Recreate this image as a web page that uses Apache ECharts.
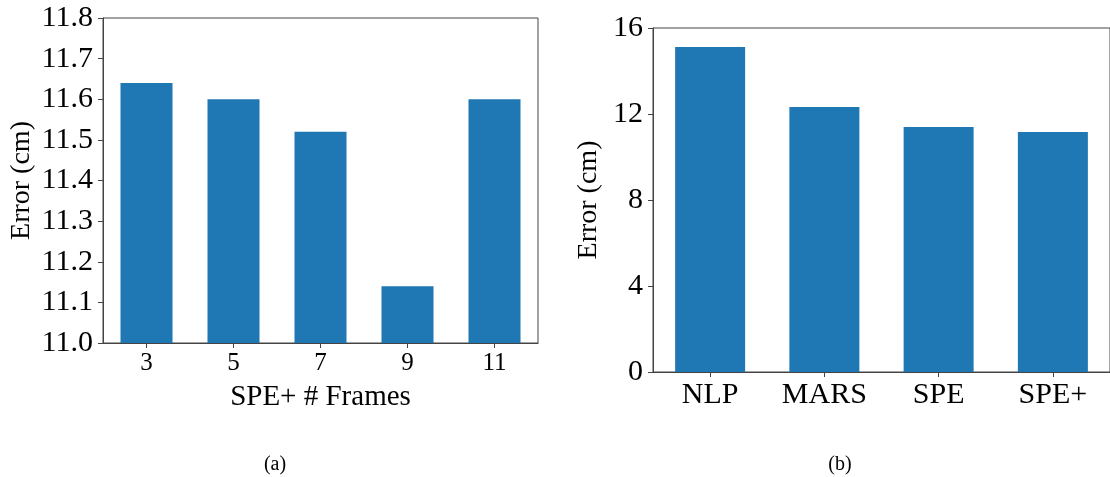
<!DOCTYPE html>
<html>
<head>
<meta charset="utf-8">
<script src="https://cdn.jsdelivr.net/npm/echarts@6/dist/echarts.min.js"></script>
<style>
html,body{margin:0;padding:0;background:#fff;}
#c{width:1110px;height:477px;}
</style>
</head>
<body>
<div id="c"></div>
<script>
// Data
const framesCats = ['3', '5', '7', '9', '11'];
const framesErr = [11.64, 11.60, 11.52, 11.14, 11.60];
const methodCats = ['NLP', 'MARS', 'SPE', 'SPE+'];
const methodErr = [15.12, 12.32, 11.39, 11.16];
const subLabels = ['(a)', '(b)'];

const FONT = '"Liberation Serif", "Times New Roman", serif';
const BLUE = '#1f77b4';
const SPINE = '#444';

const chart = echarts.init(document.getElementById('c'), null, {renderer: 'canvas'});

const axisLineStyle = {show: true, lineStyle: {color: SPINE, width: 1}};
const tickStyle = {show: true, inside: false, length: 5, lineStyle: {color: SPINE, width: 1}};

chart.setOption({
  animation: false,
  backgroundColor: '#fff',
  textStyle: {fontFamily: FONT},
  title: [
    {text: subLabels[0], left: 270, top: 450, textAlign: 'center',
     textStyle: {fontFamily: FONT, fontSize: 20, fontWeight: 'normal', color: '#000'}},
    {text: subLabels[1], left: 835, top: 450, textAlign: 'center',
     textStyle: {fontFamily: FONT, fontSize: 20, fontWeight: 'normal', color: '#000'}}
  ],
  grid: [
    {left: 103, top: 18, width: 435, height: 325, show: true, borderColor: SPINE, borderWidth: 1, containLabel: false},
    {left: 653, top: 28, width: 468, height: 344, show: true, borderColor: SPINE, borderWidth: 1, containLabel: false}
  ],
  xAxis: [
    {type: 'category', gridIndex: 0, data: framesCats, boundaryGap: true,
     axisLine: axisLineStyle, axisTick: Object.assign({alignWithLabel: true}, tickStyle),
     axisLabel: {fontFamily: FONT, fontSize: 25, color: '#000', margin: 8},
     name: 'SPE+ # Frames', nameLocation: 'middle', nameGap: 40,
     nameTextStyle: {fontFamily: FONT, fontSize: 29, color: '#000'},
     splitLine: {show: false}},
    {type: 'category', gridIndex: 1, data: methodCats, boundaryGap: true,
     axisLine: axisLineStyle, axisTick: Object.assign({alignWithLabel: true}, tickStyle),
     axisLabel: {fontFamily: FONT, fontSize: 30, color: '#000', margin: 8},
     splitLine: {show: false}}
  ],
  yAxis: [
    {type: 'value', gridIndex: 0, min: 11.0, max: 11.8, interval: 0.1,
     axisLine: axisLineStyle, axisTick: tickStyle,
     axisLabel: {fontFamily: FONT, fontSize: 30, color: '#000', margin: 10,
       formatter: v => v.toFixed(1)},
     name: 'Error (cm)', nameLocation: 'middle', nameGap: 67, nameRotate: 90,
     nameTextStyle: {fontFamily: FONT, fontSize: 28, color: '#000'},
     splitLine: {show: false}},
    {type: 'value', gridIndex: 1, min: 0, max: 16, interval: 4,
     axisLine: axisLineStyle, axisTick: tickStyle,
     axisLabel: {fontFamily: FONT, fontSize: 30, color: '#000', margin: 10},
     name: 'Error (cm)', nameLocation: 'middle', nameGap: 50, nameRotate: 90,
     nameTextStyle: {fontFamily: FONT, fontSize: 28, color: '#000'},
     splitLine: {show: false}}
  ],
  series: [
    {type: 'bar', xAxisIndex: 0, yAxisIndex: 0, data: framesErr, barWidth: 52,
     itemStyle: {color: BLUE}, silent: true},
    {type: 'bar', xAxisIndex: 1, yAxisIndex: 1, data: methodErr, barWidth: 70,
     itemStyle: {color: BLUE}, silent: true}
  ]
});
</script>
</body>
</html>
